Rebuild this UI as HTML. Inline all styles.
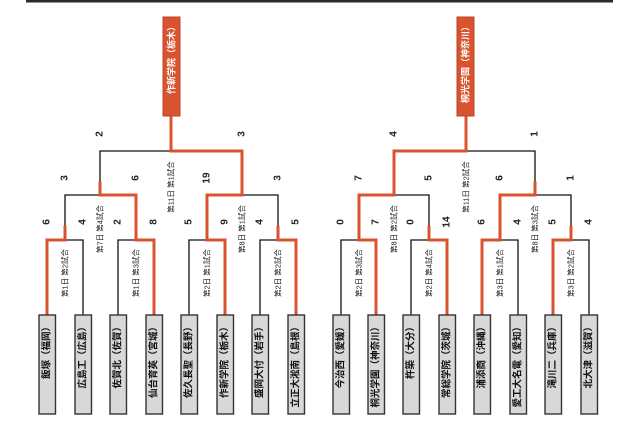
<!DOCTYPE html>
<html><head><meta charset="utf-8"><style>
html,body{margin:0;padding:0;background:#fff;}
svg{display:block;}
text{font-family:"Liberation Sans","Noto Sans CJK JP",sans-serif;}
.s{font-size:10px;font-weight:bold;fill:#222;}
.m{font-size:7.5px;fill:#222;}
.n{font-size:9.5px;font-weight:bold;fill:#111;}
.c{font-size:9px;font-weight:bold;fill:#fff;}
</style></head><body>
<svg width="640" height="426" viewBox="0 0 640 426" xmlns="http://www.w3.org/2000/svg">
<rect x="26" y="0" width="587" height="2.5" fill="#2b2a25"/>
<!-- black structure -->
<g stroke="#111" stroke-width="1.3" fill="none">
<path d="M47 315V240H83V315M118 315V240H154V315M189 315V240H225V315M260 315V240H296V315"/>
<path d="M65 240V195H136V240M207 240V195H278V240M100 195V151H242V195M171 151V116"/>
<path d="M341 315V240H376V315M411 315V240H447V315M482 315V240H518V315M553 315V240H589V315"/>
<path d="M359 240V195H429V240M500 240V195H571V240M394 195V151H535V195M466 151V116"/>
</g>
<!-- red paths -->
<g stroke="#d9532f" stroke-width="3" fill="none" stroke-linecap="square">
<path d="M47 315V240H65V227"/>
<path d="M154 315V240H136V195H100V183"/>
<path d="M225 315V240H207V195H242V151H171V116"/>
<path d="M296 315V240H278V227"/>
<path d="M376 315V240H359V195H394V151H466V116"/>
<path d="M447 315V240H429V227"/>
<path d="M482 315V240H500V195H535V183"/>
<path d="M553 315V240H571V227"/>
</g>
<!-- champion boxes -->
<rect x="163" y="17" width="17" height="99" fill="#d9532f" stroke="#b8442a" stroke-width="1"/>
<rect x="457" y="17" width="17" height="99" fill="#d9532f" stroke="#b8442a" stroke-width="1"/>
<text class="c" text-anchor="end" dominant-baseline="central" transform="translate(171.5,22) rotate(-90)">作新学院（栃木）</text>
<text class="c" text-anchor="end" dominant-baseline="central" transform="translate(465.5,22) rotate(-90)">桐光学園（神奈川）</text>
<!-- leaf boxes -->
<g fill="#d8d8d8" stroke="#333" stroke-width="1.4">
<rect x="39" y="315" width="16.5" height="99"/><rect x="75" y="315" width="16.5" height="99"/>
<rect x="110" y="315" width="16.5" height="99"/><rect x="146" y="315" width="16.5" height="99"/>
<rect x="181" y="315" width="16.5" height="99"/><rect x="217" y="315" width="16.5" height="99"/>
<rect x="252" y="315" width="16.5" height="99"/><rect x="288" y="315" width="16.5" height="99"/>
<rect x="333" y="315" width="16.5" height="99"/><rect x="368" y="315" width="16.5" height="99"/>
<rect x="403" y="315" width="16.5" height="99"/><rect x="439" y="315" width="16.5" height="99"/>
<rect x="474" y="315" width="16.5" height="99"/><rect x="510" y="315" width="16.5" height="99"/>
<rect x="545" y="315" width="16.5" height="99"/><rect x="581" y="315" width="16.5" height="99"/>
</g>
<g class="n" text-anchor="end" dominant-baseline="central">
<text transform="translate(47,322) rotate(-90)">飯塚（福岡）</text>
<text transform="translate(83,322) rotate(-90)">広島工（広島）</text>
<text transform="translate(118,322) rotate(-90)">佐賀北（佐賀）</text>
<text transform="translate(154,322) rotate(-90)">仙台育英（宮城）</text>
<text transform="translate(189,322) rotate(-90)">佐久長聖（長野）</text>
<text transform="translate(225,322) rotate(-90)">作新学院（栃木）</text>
<text transform="translate(260,322) rotate(-90)">盛岡大付（岩手）</text>
<text transform="translate(296,322) rotate(-90)">立正大淞南（島根）</text>
<text transform="translate(341,322) rotate(-90)">今治西（愛媛）</text>
<text transform="translate(376,322) rotate(-90)">桐光学園（神奈川）</text>
<text transform="translate(411,322) rotate(-90)">杵築（大分）</text>
<text transform="translate(447,322) rotate(-90)">常総学院（茨城）</text>
<text transform="translate(482,322) rotate(-90)">浦添商（沖縄）</text>
<text transform="translate(518,322) rotate(-90)">愛工大名電（愛知）</text>
<text transform="translate(553,322) rotate(-90)">滝川二（兵庫）</text>
<text transform="translate(589,322) rotate(-90)">北大津（滋賀）</text>
</g>
<!-- scores -->
<g class="s" text-anchor="middle" dominant-baseline="central">
<text transform="translate(47,222) rotate(-90)">6</text><text transform="translate(83,222) rotate(-90)">4</text>
<text transform="translate(118,222) rotate(-90)">2</text><text transform="translate(154,222) rotate(-90)">8</text>
<text transform="translate(189,222) rotate(-90)">5</text><text transform="translate(225,222) rotate(-90)">9</text>
<text transform="translate(260,222) rotate(-90)">4</text><text transform="translate(296,222) rotate(-90)">5</text>
<text transform="translate(65,178) rotate(-90)">3</text><text transform="translate(136,178) rotate(-90)">6</text>
<text transform="translate(207,178) rotate(-90)">19</text><text transform="translate(278,178) rotate(-90)">3</text>
<text transform="translate(100,134) rotate(-90)">2</text><text transform="translate(242,134) rotate(-90)">3</text>
<text transform="translate(341,222) rotate(-90)">0</text><text transform="translate(376,222) rotate(-90)">7</text>
<text transform="translate(411,222) rotate(-90)">0</text><text transform="translate(447,222) rotate(-90)">14</text>
<text transform="translate(482,222) rotate(-90)">6</text><text transform="translate(518,222) rotate(-90)">4</text>
<text transform="translate(553,222) rotate(-90)">5</text><text transform="translate(589,222) rotate(-90)">4</text>
<text transform="translate(359,178) rotate(-90)">7</text><text transform="translate(429,178) rotate(-90)">5</text>
<text transform="translate(500,178) rotate(-90)">6</text><text transform="translate(571,178) rotate(-90)">1</text>
<text transform="translate(394,134) rotate(-90)">4</text><text transform="translate(535,134) rotate(-90)">1</text>
</g>
<!-- match labels -->
<g class="m" text-anchor="middle" dominant-baseline="central">
<text transform="translate(171,187) rotate(-90)">第11日 第1試合</text>
<text transform="translate(466,187) rotate(-90)">第11日 第2試合</text>
<text transform="translate(100,229) rotate(-90)">第7日 第4試合</text>
<text transform="translate(242,229) rotate(-90)">第8日 第1試合</text>
<text transform="translate(394,229) rotate(-90)">第8日 第2試合</text>
<text transform="translate(535,229) rotate(-90)">第8日 第3試合</text>
<text transform="translate(65,273) rotate(-90)">第1日 第2試合</text>
<text transform="translate(136,273) rotate(-90)">第1日 第3試合</text>
<text transform="translate(207,273) rotate(-90)">第2日 第1試合</text>
<text transform="translate(278,273) rotate(-90)">第2日 第2試合</text>
<text transform="translate(359,273) rotate(-90)">第2日 第3試合</text>
<text transform="translate(429,273) rotate(-90)">第2日 第4試合</text>
<text transform="translate(500,273) rotate(-90)">第3日 第1試合</text>
<text transform="translate(571,273) rotate(-90)">第3日 第2試合</text>
</g>
</svg>
</body></html>
